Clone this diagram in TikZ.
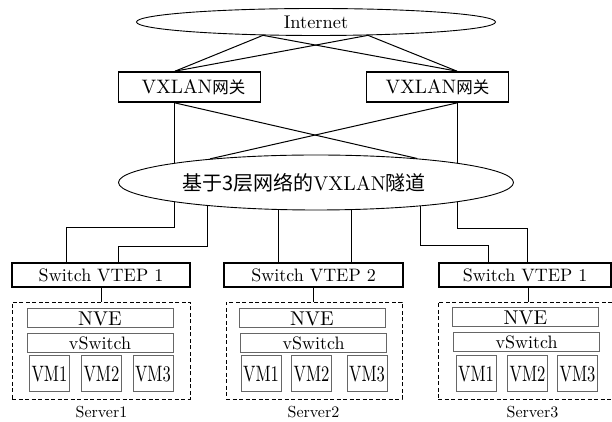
\documentclass[tikz,border=0pt]{standalone}
\usepackage{fontspec}
\usepackage{graphicx}
\setmainfont{lmroman10-regular.otf}
\newfontfamily\cjk{Noto Sans CJK SC}
\newcommand\vmname[1]{\scalebox{1}[1.35]{#1}}
\usetikzlibrary{shapes.geometric}
\begin{document}
\begin{tikzpicture}
[
x=1pt, y=1pt,
Cloud/.style={ellipse, draw=black, line width=0.9pt, inner sep=0pt},
Gateway/.style={rectangle, draw=black, line width=1.6pt, minimum width=142pt, minimum height=30pt, inner sep=0pt, font=\fontsize{19.5}{21}\selectfont},
Vtep/.style={rectangle, draw=black, line width=1.6pt, minimum height=24pt, inner sep=0pt, font=\fontsize{18}{20}\selectfont},
Server/.style={rectangle, draw=black, line width=0.8pt, dash pattern=on 4pt off 2.5pt, minimum height=97pt, inner sep=0pt},
Layer/.style={rectangle, draw=black!60, line width=1pt, minimum width=146pt, minimum height=19pt, inner sep=0pt, font=\fontsize{18}{20}\selectfont},
NveBox/.style={Layer, font=\fontsize{20}{22}\selectfont},
Vm/.style={rectangle, draw=black!60, line width=1pt, minimum width=40pt, minimum height=36pt, inner sep=0pt, font=\fontsize{16.5}{18}\selectfont},
Caption/.style={anchor=base, inner sep=0pt, font=\fontsize{16}{18}\selectfont},
Link/.style={draw=black, line width=1pt}
]
\useasboundingbox (0,0) rectangle (612,422);

\node[Cloud, minimum width=359pt, minimum height=27pt, font=\fontsize{18.4}{20}\selectfont] (internet) at (316,400) {Internet};
\node[Gateway] (gwL) at (189.5,335) {\kern8pt VXLAN{\cjk\fontsize{16.5}{18}\selectfont 网关}};
\node[Gateway] (gwR) at (437.5,335) {VXLAN{\cjk\fontsize{16.5}{18}\selectfont 网关}};
\node[Cloud, minimum width=395pt, minimum height=55pt, font=\fontsize{20}{22}\selectfont] (tunnel) at (316,239.5) {{\cjk 基于3层网络的}VXLAN{\cjk 隧道}\kern24pt};

\node[Vtep, minimum width=178pt] (vtepA) at (101,147) {Switch VTEP 1};
\node[Vtep, minimum width=179pt] (vtepB) at (313.5,147) {Switch VTEP 2};
\node[Vtep, minimum width=172pt] (vtepC) at (525,147) {Switch VTEP 1};

\node[Server, minimum width=178pt] (serverA) at (101,71.5) {};
\node[Server, minimum width=176pt] (serverB) at (314,71.5) {};
\node[Server, minimum width=175pt] (serverC) at (525.5,71.5) {};

\node[NveBox] (nveA) at (100,103.5) {NVE};
\node[Layer] (vswA) at (100,78.5) {vSwitch};
\node[Vm] (vmA1) at (49.5,48) {\vmname{VM1}};
\node[Vm] (vmA2) at (101.5,48) {\vmname{VM2}};
\node[Vm] (vmA3) at (153,48) {\vmname{VM3}};

\node[NveBox] (nveB) at (312,103.5) {NVE};
\node[Layer] (vswB) at (313.5,78.5) {vSwitch};
\node[Vm] (vmB1) at (261,48) {\vmname{VM1}};
\node[Vm] (vmB2) at (311.5,48) {\vmname{VM2}};
\node[Vm] (vmB3) at (367,48) {\vmname{VM3}};

\node[NveBox] (nveC) at (525.5,104.5) {NVE};
\node[Layer] (vswC) at (526.5,79.5) {vSwitch};
\node[Vm] (vmC1) at (476,48) {\vmname{VM1}};
\node[Vm] (vmC2) at (527.5,48) {\vmname{VM2}};
\node[Vm] (vmC3) at (577.5,48) {\vmname{VM3}};

\node[Caption] (capA) at (101.5,4) {Server1};
\node[Caption] (capB) at (313.5,4) {Server2};
\node[Caption] (capC) at (532.5,4) {Server3};

\coordinate (netL) at ([xshift=-53pt,yshift=0.6pt]internet.south);
\coordinate (netR) at ([xshift=52pt,yshift=0.6pt]internet.south);
\draw[Link] (netL) -- ([xshift=-14.5pt]gwL.north);
\draw[Link] (netL) -- ([xshift=19.5pt]gwR.north);
\draw[Link] (netR) -- ([xshift=-14.5pt]gwL.north);
\draw[Link] (netR) -- ([xshift=19.5pt]gwR.north);

\draw[Link] ([xshift=-15pt]gwL.south) -- ([xshift=-141.5pt,yshift=-8.3pt]tunnel.north);
\draw[Link] ([xshift=-15pt]gwL.south) -- ([xshift=101pt,yshift=-3.9pt]tunnel.north);
\draw[Link] ([xshift=20pt]gwR.south) -- ([xshift=-106pt,yshift=-4.3pt]tunnel.north);
\draw[Link] ([xshift=20pt]gwR.south) -- ([xshift=141.5pt,yshift=-8.3pt]tunnel.north);

\draw[Link] ([xshift=-141.5pt,yshift=8.3pt]tunnel.south) |- ([xshift=-35pt,yshift=35pt]vtepA.north) -- ([xshift=-35pt]vtepA.north);
\draw[Link] ([xshift=-109pt,yshift=4.6pt]tunnel.south) |- ([xshift=17pt,yshift=16pt]vtepA.north) -- ([xshift=17pt]vtepA.north);
\draw[Link] ([xshift=-38pt,yshift=0.5pt]tunnel.south) -- ([xshift=-35.5pt]vtepB.north);
\draw[Link] ([xshift=35pt,yshift=0.4pt]tunnel.south) -- ([xshift=37.5pt]vtepB.north);
\draw[Link] ([xshift=104pt,yshift=4.1pt]tunnel.south) |- ([xshift=-37pt,yshift=17pt]vtepC.north) -- ([xshift=-37pt]vtepC.north);
\draw[Link] ([xshift=141pt,yshift=8.2pt]tunnel.south) |- ([xshift=2pt,yshift=34pt]vtepC.north) -- ([xshift=2pt]vtepC.north);

\draw[Link] (vtepA.south) -- (vtepA.south |- serverA.north);
\draw[Link] (vtepB.south) -- (vtepB.south |- serverB.north);
\draw[Link] ([xshift=3pt]vtepC.south) -- ([xshift=3pt]vtepC.south |- serverC.north);
\end{tikzpicture}
\end{document}
